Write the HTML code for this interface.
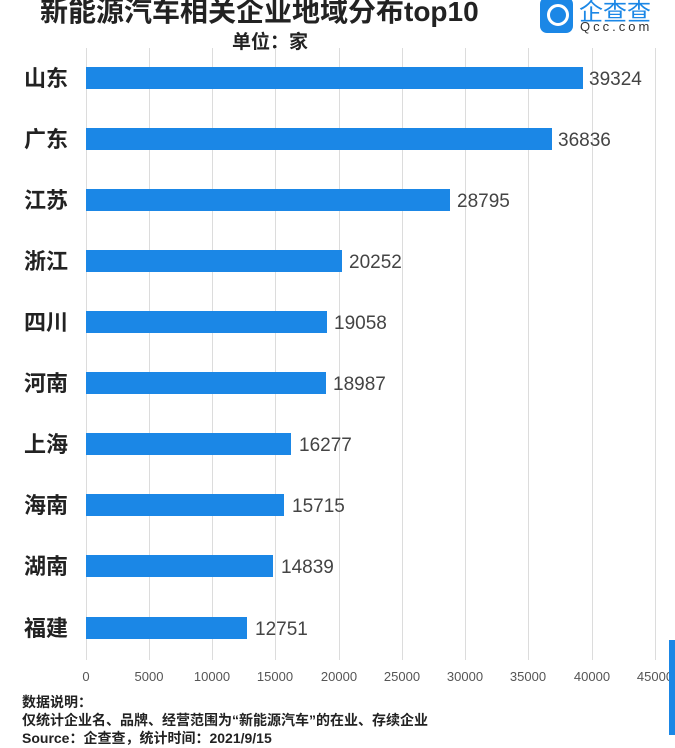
<!DOCTYPE html>
<html><head><meta charset="utf-8"><style>
body{margin:0;width:675px;height:735px;overflow:hidden;background:#fff;font-family:"Liberation Sans","Noto Sans CJK SC",sans-serif;position:relative}
.a{position:absolute;white-space:nowrap}
.g{position:absolute;top:48px;height:612px;width:1px;background:#dcdcdc}
.bar{position:absolute;left:86px;height:22px;background:#1b87e6}
.lab{position:absolute;left:24px;font-size:22px;font-weight:bold;color:#222;line-height:22px}
.val{position:absolute;font-size:19px;color:#444;line-height:22px}
.t{position:absolute;top:669px;font-size:13px;color:#555;transform:translateX(-50%)}
</style></head><body>
<div class="a" style="left:40px;top:-10px;font-size:28px;font-weight:bold;color:#222">新能源汽车相关企业地域分布top10</div>
<div class="a" style="left:232px;top:27px;font-size:19px;font-weight:bold;color:#222">单位：家</div>
<div class="a" style="left:540px;top:-3px;width:33px;height:36px;background:#1b87e6;border-radius:7px"></div>
<div class="a" style="left:547px;top:4px;width:16px;height:16px;border:3px solid #fff;border-radius:50%"></div>
<div class="a" style="left:579px;top:-8px;font-size:24px;color:#1b87e6">企查查</div>
<div class="a" style="left:580px;top:19px;font-size:13px;color:#333;letter-spacing:3px">Qcc.com</div>
<div class="g" style="left:86px"></div><div class="g" style="left:149px"></div><div class="g" style="left:212px"></div><div class="g" style="left:275px"></div><div class="g" style="left:339px"></div><div class="g" style="left:402px"></div><div class="g" style="left:465px"></div><div class="g" style="left:528px"></div><div class="g" style="left:592px"></div><div class="g" style="left:655px"></div>
<div class="lab" style="top:68px">山东</div><div class="bar" style="top:67px;width:497px"></div><div class="val" style="left:589px;top:69px">39324</div>
<div class="lab" style="top:129px">广东</div><div class="bar" style="top:128px;width:466px"></div><div class="val" style="left:558px;top:130px">36836</div>
<div class="lab" style="top:190px">江苏</div><div class="bar" style="top:189px;width:364px"></div><div class="val" style="left:457px;top:191px">28795</div>
<div class="lab" style="top:251px">浙江</div><div class="bar" style="top:250px;width:256px"></div><div class="val" style="left:349px;top:252px">20252</div>
<div class="lab" style="top:312px">四川</div><div class="bar" style="top:311px;width:241px"></div><div class="val" style="left:334px;top:313px">19058</div>
<div class="lab" style="top:373px">河南</div><div class="bar" style="top:372px;width:240px"></div><div class="val" style="left:333px;top:374px">18987</div>
<div class="lab" style="top:434px">上海</div><div class="bar" style="top:433px;width:205px"></div><div class="val" style="left:299px;top:435px">16277</div>
<div class="lab" style="top:495px">海南</div><div class="bar" style="top:494px;width:198px"></div><div class="val" style="left:292px;top:496px">15715</div>
<div class="lab" style="top:556px">湖南</div><div class="bar" style="top:555px;width:187px"></div><div class="val" style="left:281px;top:557px">14839</div>
<div class="lab" style="top:618px">福建</div><div class="bar" style="top:617px;width:161px"></div><div class="val" style="left:255px;top:619px">12751</div>
<div class="t" style="left:86px">0</div><div class="t" style="left:149px">5000</div><div class="t" style="left:212px">10000</div><div class="t" style="left:275px">15000</div><div class="t" style="left:339px">20000</div><div class="t" style="left:402px">25000</div><div class="t" style="left:465px">30000</div><div class="t" style="left:528px">35000</div><div class="t" style="left:592px">40000</div><div class="t" style="left:655px">45000</div>
<div class="a" style="left:669px;top:640px;width:6px;height:95px;background:#1b87e6"></div>
<div class="a" style="left:22px;top:692px;font-size:14px;font-weight:bold;color:#222">数据说明：</div>
<div class="a" style="left:22px;top:710px;font-size:14px;font-weight:bold;color:#222">仅统计企业名、品牌、经营范围为“新能源汽车”的在业、存续企业</div>
<div class="a" style="left:22px;top:728px;font-size:14px;font-weight:bold;color:#222">Source：企查查，统计时间：2021/9/15</div>
</body></html>
